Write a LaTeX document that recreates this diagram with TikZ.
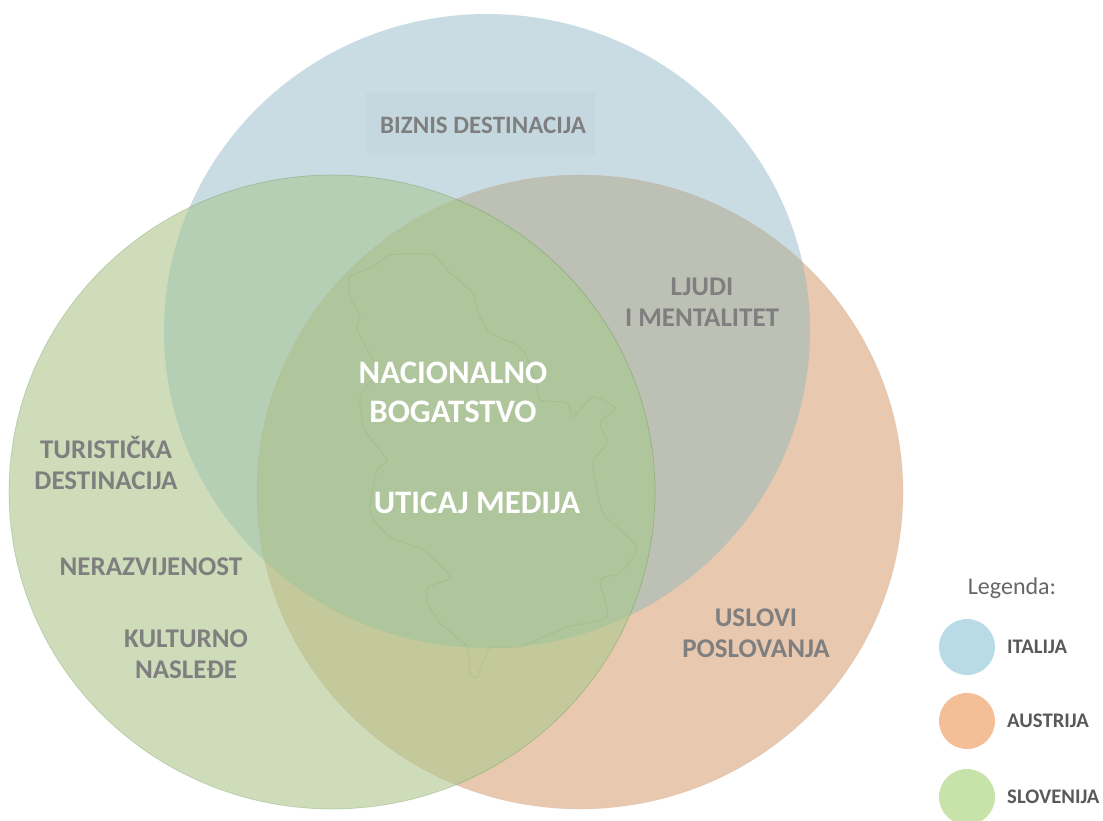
\documentclass[tikz,border=0pt]{standalone}
\usepackage{fontspec}
\setmainfont{Carlito}
\definecolor{italijaC}{HTML}{C9DCE3}
\definecolor{austrijaC}{HTML}{E8C8AF}
\definecolor{slovenijaC}{HTML}{CFDCB9}
\definecolor{italAustC}{HTML}{BDC0B5}
\definecolor{italSlovC}{HTML}{B4CFB4}
\definecolor{austSlovC}{HTML}{C3C99B}
\definecolor{centarC}{HTML}{AFC59C}
\definecolor{tekstC}{HTML}{7F7F7F}
\tikzset{
	krug/.style={x radius=323,y radius=317},
	oznaka/.style={font=\fontsize{27}{31.5}\selectfont\bfseries,text=tekstC,align=center,inner sep=0pt},
	belo/.style={font=\fontsize{32.8}{39}\selectfont\bfseries,text=white,align=center,inner sep=0pt},
	legenda/.style={font=\fontsize{20.7}{24}\selectfont\bfseries,text=black!65,anchor=west,inner sep=0pt},
	kruzic/.style={circle,minimum size=56,inner sep=0pt,text width=0pt},
}
\def\krugI{(487,331) ellipse [krug]}
\def\krugA{(580,492) ellipse [krug]}
\def\krugS{(332,492) ellipse [krug]}
\begin{document}
\begin{tikzpicture}[line join=round,line cap=round,x=1pt,y=-1pt]
		\useasboundingbox (0,0) rectangle (1103,821);
		\fill[italijaC] \krugI;
		\fill[austrijaC] \krugA;
		\fill[slovenijaC] \krugS;
		% preseci krugova
		\begin{scope}
		\clip \krugI;
		\fill[italAustC] \krugA;
		\fill[italSlovC] \krugS;
		\end{scope}
		\begin{scope}
		\clip \krugA;
		\fill[austSlovC] \krugS;
		\clip \krugI;
		\fill[centarC] \krugS;
		\end{scope}
		\draw[austrijaC!85!black,opacity=.2,line width=.6] \krugA;
		\draw[green!35!black,opacity=.18,line width=.7] \krugS;
		% karta
		\draw[black!60!green,opacity=.06,line width=1.1] plot[smooth cycle,tension=.35] coordinates {(390,255) (433,255) (450,273) (473,293) (478,313) (490,333) (517,345) (527,357) (537,387) (540,400) (567,403) (573,417) (593,397) (615,408) (600,423) (607,443) (593,463) (603,513) (637,547) (620,573) (600,580) (607,617) (567,627) (520,647) (490,648) (477,677) (470,673) (467,647) (440,623) (428,603) (428,587) (450,577) (423,550) (390,537) (370,513) (377,470) (387,460) (365,430) (360,397) (377,370) (357,330) (360,317) (350,297) (350,277) (373,267)};
		\fill[black!30!italijaC,opacity=.05] (366,92) rectangle (595,155);
		\node[oznaka,font=\fontsize{25}{31}\selectfont\bfseries] (biznis) at (483,125) {BIZNIS DESTINACIJA};
		\node[oznaka] (ljudi) at (702,302) {LJUDI\\I MENTALITET};
		\node[oznaka] (turizam) at (106,463) {TURISTIČKA\\DESTINACIJA};
		\node[oznaka] (nerazvijenost) at (151,567) {NERAZVIJENOST};
		\node[oznaka] (kultura) at (186,654) {KULTURNO\\NASLEĐE};
		\node[oznaka] (uslovi) at (756,633) {USLOVI\\POSLOVANJA};
		\node[belo] (bogatstvo) at (453,392) {NACIONALNO\\BOGATSTVO};
		\node[belo] (mediji) at (477,503) {UTICAJ MEDIJA};
		% legenda
		\node[font=\fontsize{24}{28}\selectfont,text=black!60,inner sep=0pt] (naslov) at (1012,588) {Legenda:};
		\foreach \y/\boja/\ime in {647/B8DBE7/ITALIJA,721/F4BE96/AUSTRIJA,797/C8E3AA/SLOVENIJA}{
			\definecolor{tmpC}{HTML}{\boja}
			\node[kruzic,fill=tmpC] (k\ime) at (967,\y) {};
			\node[legenda] (t\ime) at (1007,\y) {\ime};
		}
		\end{tikzpicture}
\end{document}
